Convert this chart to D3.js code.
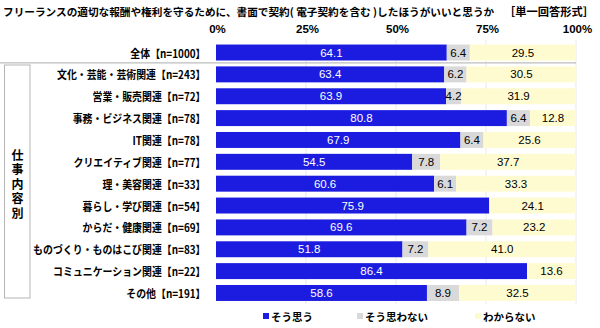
<!DOCTYPE html>
<html lang="ja">
<head>
<meta charset="utf-8">
<script src="https://cdn.jsdelivr.net/npm/d3@7"></script>
<style>
  html, body { margin: 0; padding: 0; background: #fff; }
  svg { display: block; }
  .jp { font-family: "Noto Sans CJK JP", "Noto Sans", sans-serif; font-weight: bold; }
  .num { font-family: "Liberation Sans", Arial, sans-serif; }
</style>
</head>
<body>
<svg id="chart" width="600" height="328"></svg>
<script>
// Survey: should freelance work be contracted in writing (incl. e-contracts)?
const categories = [
  "全体【n=1000】",
  "文化・芸能・芸術関連【n=243】",
  "営業・販売関連【n=72】",
  "事務・ビジネス関連【n=78】",
  "IT関連【n=78】",
  "クリエイティブ関連【n=77】",
  "理・美容関連【n=33】",
  "暮らし・学び関連【n=54】",
  "からだ・健康関連【n=69】",
  "ものづくり・ものはこび関連【n=83】",
  "コミュニケーション関連【n=22】",
  "その他【n=191】"
];
const agree    = [64.1, 63.4, 63.9, 80.8, 67.9, 54.5, 60.6, 75.9, 69.6, 51.8, 86.4, 58.6];
const disagree = [6.4, 6.2, 4.2, 6.4, 6.4, 7.8, 6.1, 0, 7.2, 7.2, 0, 8.9];
const unknown  = [29.5, 30.5, 31.9, 12.8, 25.6, 37.7, 33.3, 24.1, 23.2, 41.0, 13.6, 32.5];
const seriesNames = ["そう思う", "そう思わない", "わからない"];
const tickValues = [0, 25, 50, 75, 100];
const groupLabel = "仕事内容別";
const titleMain = "フリーランスの適切な報酬や権利を守るために、書面で契約( 電子契約を含む )したほうがいいと思うか";
const titleNote = "［単一回答形式］";

const colors = ["#1c1ce0", "#d9d9d9", "#fffbd0"];
const textColors = ["#ffffff", "#000000", "#000000"];

const svg = d3.select("#chart");

const rows = categories.map((c, i) => ({ cat: c, vals: [agree[i], disagree[i], unknown[i]] }));
const stack = d3.stack().keys([0, 1, 2]).value((d, k) => d.vals[k]);
const layers = stack(rows);

const x = d3.scaleLinear().domain([0, 100]).range([216, 576]);
const y = d3.scaleBand().domain(categories).range([41.6, 303.9]).paddingInner(0.27).paddingOuter(0.135);

// Fit a text's font size so it spans the given width
function fitText(sel, width) {
  const base = +sel.attr("font-size");
  const w = sel.node().getComputedTextLength();
  sel.attr("font-size", base * width / w);
}

// Title
fitText(svg.append("text").attr("class", "jp")
  .attr("x", 3).attr("y", 16)
  .attr("font-size", 12)
  .text(titleMain), 492);
fitText(svg.append("text").attr("class", "jp")
  .attr("x", 504).attr("y", 16)
  .attr("font-size", 12)
  .text(titleNote), 90);

// Gridlines
svg.append("g").selectAll("line").data(tickValues.slice(1)).join("line")
  .attr("x1", d => x(d)).attr("x2", d => x(d))
  .attr("y1", 40).attr("y2", 304)
  .attr("stroke", "#e9e9e9").attr("stroke-width", 1);

// Top axis labels
const axis = d3.axisTop(x).tickValues(tickValues).tickFormat(d => d + "%").tickSize(0).tickPadding(0);
const ax = svg.append("g").attr("transform", "translate(1,33)").call(axis);
ax.select(".domain").remove();
ax.selectAll("text").attr("font-size", 11.5).attr("fill", "#000")
  .attr("font-family", "'Liberation Sans', Arial, sans-serif").attr("font-weight", "bold");

// Separator under the total row
svg.append("line")
  .attr("x1", 0).attr("x2", 576).attr("y1", 62.8).attr("y2", 62.8)
  .attr("stroke", "#bdbdbd").attr("stroke-width", 1.2);

// Group box with vertical label
svg.append("rect")
  .attr("x", 4.5).attr("y", 65).attr("width", 25.5).attr("height", 233)
  .attr("fill", "none").attr("stroke", "#b5b5b5").attr("stroke-width", 1);
svg.append("text")
  .attr("class", "jp").attr("font-size", 12)
  .attr("x", 17.5).attr("y", 149)
  .style("writing-mode", "vertical-rl")
  .style("letter-spacing", "2.5px")
  .text(groupLabel);

// Category labels (slightly condensed)
svg.append("g").selectAll("text").data(categories).join("text")
  .attr("class", "jp").attr("font-size", 11)
  .attr("x", 205.5).attr("y", d => y(d) + y.bandwidth() / 2)
  .attr("text-anchor", "end").attr("dominant-baseline", "central")
  .text(d => d)
  .each(function () {
    const w = this.getComputedTextLength();
    d3.select(this).attr("textLength", w * 0.9).attr("lengthAdjust", "spacingAndGlyphs");
  });

// Stacked bars
const g = svg.append("g");
layers.forEach((layer, k) => {
  g.append("g").selectAll("rect").data(layer).join("rect")
    .attr("x", d => x(d[0]))
    .attr("width", d => x(d[1]) - x(d[0]))
    .attr("y", d => y(d.data.cat))
    .attr("height", y.bandwidth())
    .attr("fill", colors[k]);
});

// Value labels
layers.forEach((layer, k) => {
  g.append("g").selectAll("text").data(layer.filter(d => d[1] - d[0] > 0)).join("text")
    .attr("class", "num").attr("font-size", 11.5)
    .attr("x", d => (x(d[0]) + x(d[1])) / 2)
    .attr("y", d => y(d.data.cat) + y.bandwidth() / 2)
    .attr("text-anchor", "middle").attr("dominant-baseline", "central")
    .attr("fill", textColors[k])
    .text(d => (d[1] - d[0]).toFixed(1));
});

// Legend
const legendX = [263, 357, 475];
const lg = svg.append("g").selectAll("g").data(seriesNames).join("g")
  .attr("transform", (d, i) => `translate(${legendX[i]},316)`);
lg.append("rect").attr("x", 0).attr("y", -3).attr("width", 6).attr("height", 6)
  .attr("fill", (d, i) => colors[i]);
lg.append("text").attr("class", "jp").attr("font-size", 10.5)
  .attr("x", 8).attr("y", 0).attr("dominant-baseline", "central")
  .text(d => d);
</script>
</body>
</html>
